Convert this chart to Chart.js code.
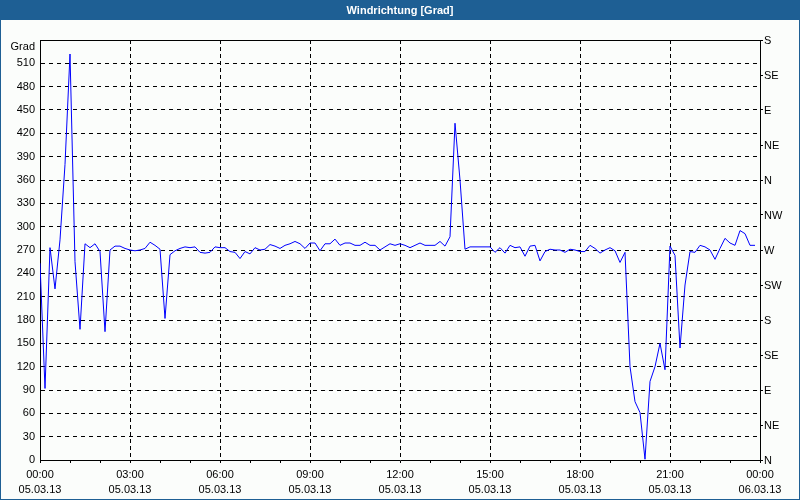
<!DOCTYPE html>
<html>
<head>
<meta charset="utf-8">
<title>Windrichtung</title>
<script src="https://cdn.jsdelivr.net/npm/chart.js@4.4.1/dist/chart.umd.min.js"></script>
<style>
  html, body { margin: 0; padding: 0; background: #fff; }
  canvas { display: block; }
</style>
</head>
<body>
<canvas id="myChart" width="800" height="500"></canvas>
<script>
// Wind direction in degrees, one sample every 10 minutes, 05.03.13 00:00 - 23:50
const windDir = [
    253, 92, 273, 220, 283, 380, 522, 255, 168, 278, 273, 278,
    268, 165, 270, 275, 275, 272, 270, 269, 270, 272, 280, 276,
    271, 182, 264, 269, 272, 274, 273, 274, 267, 266, 267, 274,
    273, 273, 268, 267, 259, 268, 265, 273, 270, 271, 277, 275,
    272, 276, 278, 281, 278, 272, 279, 279, 269, 278, 278, 284,
    276, 279, 279, 276, 276, 280, 276, 276, 270, 274, 278, 276,
    278, 276, 273, 276, 279, 276, 276, 276, 281, 275, 287, 433,
    360, 271, 274, 274, 274, 274, 274, 267, 273, 266, 276, 273,
    274, 262, 275, 276, 256, 268, 271, 270, 270, 267, 271, 270,
    268, 268, 276, 272, 266, 270, 273, 269, 254, 267, 120, 75,
    61, 1, 101, 120, 150, 116, 275, 263, 144, 225, 268, 267,
    276, 274, 270, 258, 272, 285, 279, 276, 295, 291, 276, 276
];
const sampleMinutes = 10;

// x axis tick labels every 3 hours
const tickHours = [0, 3, 6, 9, 12, 15, 18, 21, 24];
const tickTimes = ['00:00', '03:00', '06:00', '09:00', '12:00', '15:00', '18:00', '21:00', '00:00'];
const tickDates = ['05.03.13', '05.03.13', '05.03.13', '05.03.13', '05.03.13', '05.03.13', '05.03.13', '05.03.13', '06.03.13'];

// right axis compass labels, 0..540 in steps of 45
const compass = ['N', 'NE', 'E', 'SE', 'S', 'SW', 'W', 'NW', 'N', 'NE', 'E', 'SE', 'S'];

const FONT = '"Liberation Sans", Arial, sans-serif';
const BAR_BLUE = '#1e5f94';

const points = windDir.map((v, i) => ({ x: i * sampleMinutes / 60, y: v }));

// background, title bar, outer frame and top border of the plot
const framePlugin = {
    id: 'frame',
    beforeDraw(chart) {
        const ctx = chart.ctx;
        ctx.save();
        ctx.fillStyle = '#fbfdfb';
        ctx.fillRect(0, 0, chart.width, chart.height);
        ctx.fillStyle = BAR_BLUE;
        ctx.fillRect(0, 0, chart.width, 20);
        ctx.strokeStyle = BAR_BLUE;
        ctx.lineWidth = 1;
        ctx.strokeRect(0.5, 0.5, chart.width - 1, chart.height - 1);
        ctx.restore();
    },
    afterDraw(chart) {
        const { ctx, chartArea } = chart;
        ctx.save();
        ctx.strokeStyle = '#000';
        ctx.lineWidth = 1;
        ctx.beginPath();
        ctx.moveTo(Math.round(chartArea.left) + 0.5, Math.round(chartArea.top) + 0.5);
        ctx.lineTo(Math.round(chartArea.right) + 0.5, Math.round(chartArea.top) + 0.5);
        ctx.stroke();
        ctx.restore();
    }
};

const ctx = document.getElementById('myChart').getContext('2d');
const myChart = new Chart(ctx, {
    type: 'line',
    data: {
        datasets: [{
            label: 'Windrichtung',
            data: points,
            borderColor: '#0000ff',
            borderWidth: 1,
            pointRadius: 0,
            tension: 0,
            fill: false
        }]
    },
    options: {
        responsive: false,
        animation: false,
        devicePixelRatio: 1,
        layout: { padding: 0 },
        plugins: {
            legend: { display: false },
            tooltip: { enabled: false },
            title: {
                display: true,
                text: 'Windrichtung [Grad]',
                color: '#ffffff',
                font: { family: FONT, size: 11, weight: 'bold', lineHeight: 1.2 },
                padding: { top: 4, bottom: 22.8 }
            }
        },
        scales: {
            x: {
                type: 'linear',
                min: 0,
                max: 24,
                afterFit: s => { s.height = 40; },
                afterBuildTicks: s => {
                    s.ticks = [];
                    for (let h = 0; h <= 24; h++) s.ticks.push({ value: h });
                },
                ticks: {
                    autoSkip: false,
                    maxRotation: 0,
                    padding: 4,
                    color: '#000',
                    font: { family: FONT, size: 11, lineHeight: 1.4 },
                    callback: v => {
                        const k = tickHours.indexOf(v);
                        return k >= 0 ? [tickTimes[k], tickDates[k]] : '';
                    }
                },
                grid: {
                    color: c => (c.tick && c.tick.value % 3 === 0) ? '#000' : 'rgba(0,0,0,0)',
                    tickColor: '#000',
                    tickLength: 3,
                    lineWidth: 1
                },
                border: { color: '#000', width: 1, dash: [4, 3] }
            },
            y: {
                position: 'left',
                min: 0,
                max: 540,
                afterFit: s => { s.width = 40; },
                ticks: {
                    stepSize: 30,
                    autoSkip: false,
                    padding: 5,
                    color: '#000',
                    font: { family: FONT, size: 11, lineHeight: 1.2 },
                    callback: v => v === 540 ? ['', 'Grad'] : v
                },
                grid: {
                    color: '#000',
                    drawTicks: false,
                    lineWidth: 1
                },
                border: { color: '#000', width: 1, dash: [4, 4] }
            },
            yCompass: {
                position: 'right',
                min: 0,
                max: 540,
                afterFit: s => { s.width = 40; },
                ticks: {
                    stepSize: 45,
                    autoSkip: false,
                    padding: 1,
                    labelOffset: 1,
                    color: '#000',
                    font: { family: FONT, size: 11 },
                    callback: (v, i) => compass[i]
                },
                grid: {
                    drawOnChartArea: false,
                    tickColor: '#000',
                    tickLength: 3
                },
                border: { color: '#000', width: 1 }
            }
        }
    },
    plugins: [framePlugin]
});
</script>
</body>
</html>
